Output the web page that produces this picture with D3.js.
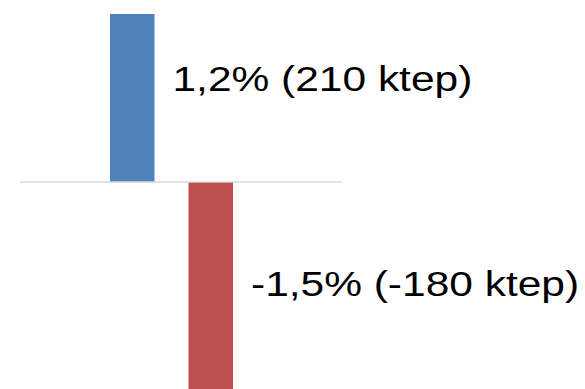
<!DOCTYPE html>
<html>
<head>
<meta charset="utf-8">
<script src="https://cdn.jsdelivr.net/npm/d3@7"></script>
<style>
  html, body { margin: 0; padding: 0; background: #fff; overflow: hidden; }
  svg { display: block; }
</style>
</head>
<body>
<svg id="chart" width="585" height="389"></svg>
<script>
// Change in consumption: percentage and absolute value (ktep)
const series = ["hausse", "baisse"];
const pctValues = [1.2, -1.5];
const ktepValues = [210, -180];
const barColors = ["#4f81bd", "#c0504d"];

const W = 585, H = 389;
const svg = d3.select("#chart");

const fr = d3.formatLocale({ decimal: ",", thousands: " ", grouping: [3], currency: ["", " €"], minus: "-" });
const fmtPct = fr.format(".1f");
const fmtInt = fr.format("d");

const y = d3.scaleLinear().domain([0, 1.2]).range([182, 14]);
const x = d3.scaleBand().domain(series).range([110, 233]).paddingInner(0.433).paddingOuter(0);

const data = series.map((s, i) => ({ s, pct: pctValues[i], ktep: ktepValues[i], color: barColors[i] }));

// bars
svg.append("g").selectAll("rect").data(data).join("rect")
  .attr("x", d => x(d.s))
  .attr("width", x.bandwidth())
  .attr("y", d => Math.min(y(d.pct), y(0)))
  .attr("height", d => Math.abs(y(d.pct) - y(0)))
  .attr("fill", d => d.color);

// zero line
svg.append("line")
  .attr("x1", 20).attr("x2", 342)
  .attr("y1", y(0)).attr("y2", y(0))
  .attr("stroke", "#d9d9d9").attr("stroke-width", 1.6);

// value labels beside each bar
const labelDy = { hausse: 77, baisse: 113.5 };
const labels = svg.append("g").selectAll("g").data(data).join("g")
  .attr("transform", d => {
    const lx = x(d.s) + x.bandwidth() + 18;
    const ly = (d.pct >= 0 ? y(d.pct) : y(0)) + labelDy[d.s];
    return `translate(${lx},${ly}) scale(1.18,1)`;
  });
labels.append("text")
  .attr("x", 0).attr("y", 0)
  .attr("font-family", "'Liberation Sans', Arial, sans-serif")
  .attr("font-size", 36)
  .attr("fill", "#000")
  .text(d => `${fmtPct(d.pct)}% (${fmtInt(d.ktep)} ktep)`);
</script>
</body>
</html>
